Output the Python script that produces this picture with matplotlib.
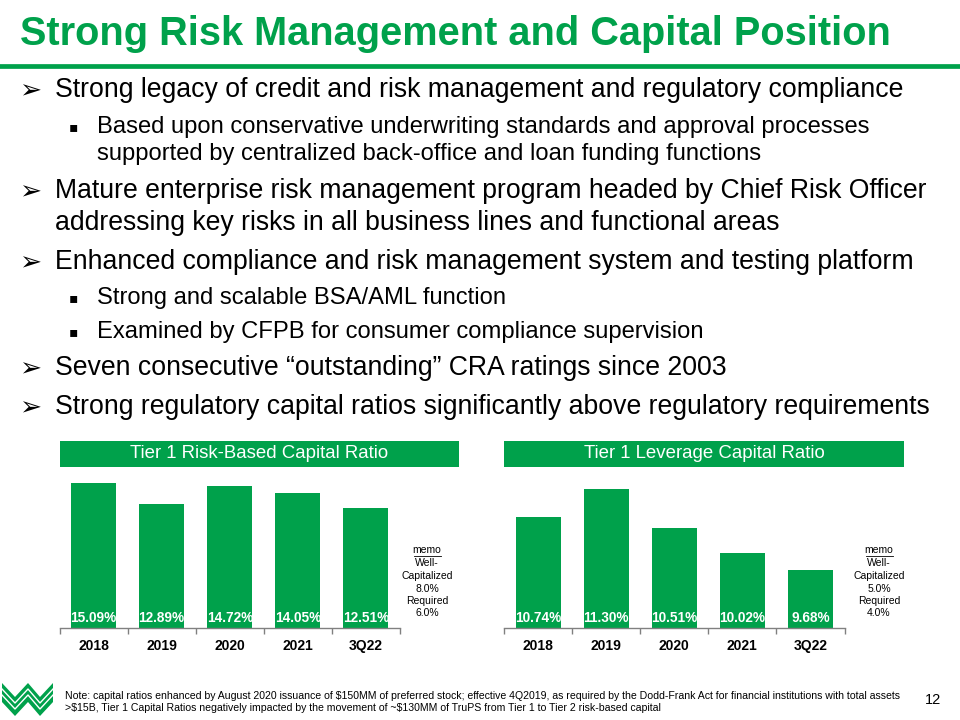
"""
Slide recreation: risk management bullets with two capital ratio bar charts.
"""

import numpy as np
import matplotlib
matplotlib.use("Agg")
import matplotlib.pyplot as plt
from matplotlib.patches import Rectangle, Polygon
from matplotlib.lines import Line2D

plt.rcParams['font.family'] = ['Liberation Sans', 'DejaVu Sans']

GREEN = '#00A14B'
GREY = '#808080'

# --- data -----------------------------------------------------------------
periods = ['2018', '2019', '2020', '2021', '3Q22']
tier1_risk_based = [15.09, 12.89, 14.72, 14.05, 12.51]
tier1_leverage = [10.74, 11.30, 10.51, 10.02, 9.68]

risk_based_memo = ['Well-', 'Capitalized', '8.0%', 'Required', '6.0%']
leverage_memo = ['Well-', 'Capitalized', '5.0%', 'Required', '4.0%']

title = 'Strong Risk Management and Capital Position'
bullet_levels = [0, 1, 0, 0, 1, 1, 0, 0]
bullet_lines = [
    ['Strong legacy of credit and risk management and regulatory compliance'],
    ['Based upon conservative underwriting standards and approval processes',
     'supported by centralized back-office and loan funding functions'],
    ['Mature enterprise risk management program headed by Chief Risk Officer',
     'addressing key risks in all business lines and functional areas'],
    ['Enhanced compliance and risk management system and testing platform'],
    ['Strong and scalable BSA/AML function'],
    ['Examined by CFPB for consumer compliance supervision'],
    ['Seven consecutive \u201coutstanding\u201d CRA ratings since 2003'],
    ['Strong regulatory capital ratios significantly above regulatory requirements'],
]
footnote = ('Note: capital ratios enhanced by August 2020 issuance of $150MM of '
            'preferred stock; effective 4Q2019, as required by the Dodd-Frank Act '
            'for financial institutions with total assets\n>$15B, Tier 1 Capital '
            'Ratios negatively impacted by the movement of ~$130MM of TruPS from '
            'Tier 1 to Tier 2 risk-based capital')
page_number = '12'

W, H = 960, 720


def fx(x):
    return x / W


def fy(y):
    return 1 - y / H


fig = plt.figure(figsize=(9.6, 7.2), dpi=100)

# title and rule
fig.text(fx(20), fy(34), title, fontsize=28.6, fontweight='bold', color=GREEN,
         va='center', ha='left')
fig.add_artist(Line2D([0, 1], [fy(66), fy(66)], color=GREEN, lw=3.4,
                      transform=fig.transFigure))

# bullets
bullet_y = [90, 127, 191, 262, 298, 332, 368, 407]
for level, lines, y in zip(bullet_levels, bullet_lines, bullet_y):
    if level == 0:
        fig.text(fx(19), fy(y + 1), '\u27a2', fontsize=19, va='center',
                 family='DejaVu Sans')
        gap, x_text, size = 32, 55, 19.2
    else:
        fig.text(fx(69), fy(y), '\u25aa', fontsize=10, va='center',
                 family='DejaVu Sans')
        gap, x_text, size = 27, 97, 17.1
    for k, line in enumerate(lines):
        fig.text(fx(x_text), fy(y + k * gap), line, fontsize=size,
                 va='center', ha='left', color='black')


def draw_chart(left_px, values, ymin, ymax, header, memo_lines, memo_x):
    ax = fig.add_axes([fx(left_px), fy(628), 340.5 / W, 158 / H])
    x = np.arange(len(values))
    ax.bar(x, values, width=0.66, color=GREEN, bottom=0)
    ax.set_xlim(-0.5, len(values) - 0.5)
    ax.set_ylim(ymin, ymax)
    for side in ['top', 'right', 'left']:
        ax.spines[side].set_visible(False)
    ax.spines['bottom'].set_color(GREY)
    ax.spines['bottom'].set_linewidth(1.0)
    ax.set_yticks([])
    ax.set_xticks(np.arange(-0.5, len(values)), labels=[])
    ax.set_xticks(x, labels=periods, minor=True)
    ax.tick_params(axis='x', which='major', length=4, color=GREY, width=1)
    ax.tick_params(axis='x', which='minor', length=0, pad=8, labelsize=10)
    for lab in ax.get_xticklabels(minor=True):
        lab.set_fontweight('bold')
    for i, v in enumerate(values):
        ax.annotate(f'{v:.2f}%', xy=(i, ymin), xytext=(0, 2.2),
                    textcoords='offset points', ha='center', va='bottom',
                    color='white', fontweight='bold', fontsize=9.8)

    # header box
    fig.add_artist(Rectangle((fx(left_px), fy(467)), 400 / W, 26 / H,
                             transform=fig.transFigure, color=GREEN, lw=0))
    fig.text(fx(left_px + 200), fy(454), header, color='white',
             fontsize=13.4, ha='center', va='center')

    # memo
    fig.text(fx(memo_x), fy(550), 'memo', fontsize=7.5, ha='center',
             va='center')
    fig.add_artist(Line2D([fx(memo_x - 13.5), fx(memo_x + 13.5)],
                          [fy(555.5), fy(555.5)], color='black', lw=0.6,
                          transform=fig.transFigure))
    for k, line in enumerate(memo_lines):
        fig.text(fx(memo_x), fy(563.5 + k * 12.5), line, fontsize=7.5,
                 ha='center', va='center')
    return ax


draw_chart(59.5, tier1_risk_based, 0, 158 * 0.104,
           'Tier 1 Risk-Based Capital Ratio', risk_based_memo, 427)
draw_chart(504, tier1_leverage, 8.5, 8.5 + 158 * 0.0202,
           'Tier 1 Leverage Capital Ratio', leverage_memo, 879)

# logo
top = [(2, 683), (15, 697), (28, 683), (40, 697), (53, 683)]
bottom = [(53, 702), (40, 716), (28, 702), (15, 716), (2, 702)]
fig.add_artist(Polygon([(fx(a), fy(b)) for a, b in top + bottom],
                       closed=True, color=GREEN, lw=0,
                       transform=fig.transFigure))
for off in (6, 12):
    fig.add_artist(Line2D([fx(a) for a, _ in top],
                          [fy(b + off) for _, b in top],
                          color='white', lw=1.0, transform=fig.transFigure))

# footnote and page number
fig.text(fx(65), fy(702), footnote, fontsize=7.6, ha='left', va='center',
         linespacing=1.3, parse_math=False)
fig.text(fx(933), fy(700), page_number, fontsize=10.5, ha='center',
         va='center')

fig.savefig('out.png', dpi=100)
